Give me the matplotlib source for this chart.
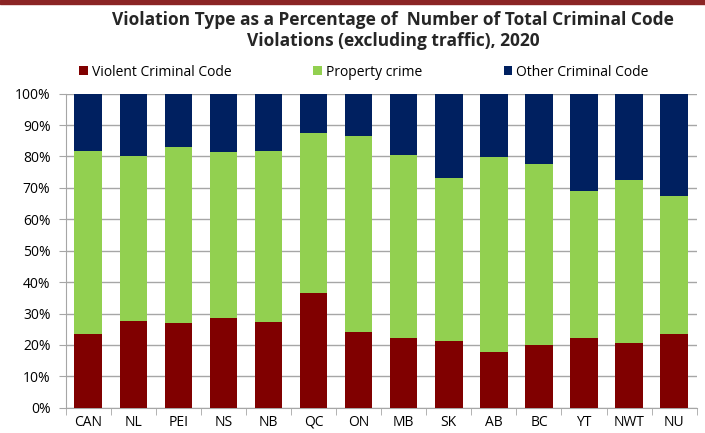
import matplotlib.pyplot as plt
import numpy as np
from matplotlib.patches import Rectangle
from matplotlib.ticker import PercentFormatter

# Regions and shares (%)
regions = ['CAN', 'NL', 'PEI', 'NS', 'NB', 'QC', 'ON', 'MB', 'SK', 'AB', 'BC', 'YT', 'NWT', 'NU']
violent = [23.6, 27.7, 27.0, 28.7, 27.4, 36.6, 24.0, 22.3, 21.3, 17.6, 20.0, 22.3, 20.6, 23.6]
property_crime = [58.0, 52.6, 55.9, 52.7, 54.3, 51.0, 62.5, 58.3, 51.7, 62.3, 57.5, 46.8, 52.0, 43.7]
other = [100 - v - p for v, p in zip(violent, property_crime)]

c_violent = '#800000'
c_property = '#92D050'
c_other = '#002060'

plt.rcParams['font.family'] = ['Open Sans', 'DejaVu Sans']

fig = plt.figure(figsize=(7.05, 4.33), dpi=100)
ax = fig.add_axes([65.7 / 705, 1 - 407.7 / 433, (696.7 - 65.7) / 705, (407.7 - 93.7) / 433])

# dark red strip along the top edge
fig.patches.append(Rectangle((0, 1 - 4 / 433), 1, 4 / 433, transform=fig.transFigure,
                             color='#8B2525', zorder=5))

x = np.arange(len(regions))
w = 0.61
b1 = ax.bar(x, violent, w, color=c_violent, label='Violent Criminal Code', zorder=3)
b2 = ax.bar(x, property_crime, w, bottom=violent, color=c_property, label='Property crime', zorder=3)
b3 = ax.bar(x, other, w, bottom=np.add(violent, property_crime), color=c_other,
            label='Other Criminal Code', zorder=3)

ax.set_xlim(-0.5, len(regions) - 0.5)
ax.set_ylim(0, 100)
ax.set_yticks(range(0, 101, 10))
ax.yaxis.set_major_formatter(PercentFormatter(decimals=0))
ax.grid(axis='y', color='#A6A6A6', linewidth=1, zorder=0)

ax.set_xticks(x)
ax.set_xticklabels(regions)
ax.set_xticks(np.arange(-0.5, len(regions)), minor=True)
ax.tick_params(axis='x', which='major', length=0, pad=5, labelsize=10, colors='black')
ax.tick_params(axis='x', which='minor', length=5, color='#A6A6A6')
ax.tick_params(axis='y', length=5, color='#A6A6A6', labelsize=10, pad=6)

for s in ['top', 'right']:
    ax.spines[s].set_visible(False)
for s in ['left', 'bottom']:
    ax.spines[s].set_color('#A6A6A6')

fig.text(393 / 705, 1 - 20 / 433, 'Violation Type as a Percentage of  Number of Total Criminal Code',
         ha='center', va='center', fontsize=12.5, fontweight='bold', color='#262626')
fig.text(393 / 705, 1 - 41 / 433, 'Violations (excluding traffic), 2020',
         ha='center', va='center', fontsize=12.5, fontweight='bold', color='#262626')

fig.legend(handles=[b1, b2, b3], loc='center', bbox_to_anchor=(364 / 705, 1 - 72 / 433), ncol=3,
           frameon=False, fontsize=10, handlelength=0.6, handleheight=0.6, handletextpad=0.3,
           columnspacing=5.9)

fig.savefig('out.png', dpi=100)
